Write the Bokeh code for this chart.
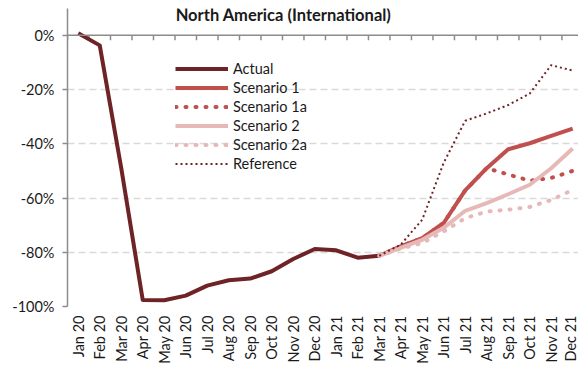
import math
from bokeh.plotting import figure
from bokeh.models import (Range1d, FixedTicker, NumeralTickFormatter, Span, Legend, LegendItem,
                          Label, ColumnDataSource)
from bokeh.embed import file_html
from bokeh.resources import INLINE

NAN = float("nan")

months = ["Jan 20", "Feb 20", "Mar 20", "Apr 20", "May 20", "Jun 20", "Jul 20", "Aug 20",
          "Sep 20", "Oct 20", "Nov 20", "Dec 20", "Jan 21", "Feb 21", "Mar 21", "Apr 21",
          "May 21", "Jun 21", "Jul 21", "Aug 21", "Sep 21", "Oct 21", "Nov 21", "Dec 21"]

actual = [0.8, -3.7, -49.0, -97.6, -97.7, -96.0, -92.3, -90.3, -89.7, -87.0, -82.5, -78.8,
          -79.3, -82.0, -81.3] + [NAN] * 9
pre = [NAN] * 14
scenario_1 = pre + [-81.3, -77.8, -74.8, -69.2, -57.2, -49.0, -42.0, -39.8, -37.1, -34.4]
scenario_1a = pre + [-81.3, -77.8, -74.8, -69.2, -57.2, -49.0, -51.3, -53.6, -52.6, -50.0]
scenario_2 = pre + [-81.3, -78.4, -75.4, -71.0, -64.7, -61.9, -58.6, -55.1, -49.0, -41.7]
scenario_2a = pre + [-81.3, -78.6, -76.6, -72.3, -67.4, -65.0, -64.3, -63.3, -60.7, -57.0]
reference = pre + [-81.3, -77.2, -68.0, -47.0, -31.5, -28.8, -25.7, -21.5, -11.0, -13.0]

y_ticks = [-100, -80, -60, -40, -20, 0]
title_text = "North America (International)"

FONT = "Lato"
LBL = "14.5px"
idx = list(range(len(months)))

def frac(vals):
    return [v / 100.0 for v in vals]

p = figure(width=578, height=366, output_backend="svg", toolbar_location=None,
           x_range=Range1d(-0.5, 23.27), y_range=Range1d(-1.0, 0.099),
           min_border_left=67, min_border_right=0, min_border_top=8, min_border_bottom=59)
p.outline_line_color = None
p.background_fill_color = "white"
p.border_fill_color = "white"

# axes
p.yaxis.ticker = FixedTicker(ticks=[t / 100.0 for t in y_ticks])
p.yaxis.formatter = NumeralTickFormatter(format="0%")
p.yaxis.axis_line_color = "#8C8C8C"
p.yaxis.axis_line_width = 1.5
p.yaxis.major_tick_line_color = "#8C8C8C"
p.yaxis.major_tick_line_width = 1.5
p.yaxis.major_tick_in = 0
p.yaxis.major_tick_out = 5
p.yaxis.minor_tick_line_color = None
p.yaxis.major_label_text_font = FONT
p.yaxis.major_label_text_font_size = LBL
p.yaxis.major_label_text_color = "#1a1a1a"
p.yaxis.major_label_standoff = 8

p.xaxis.ticker = FixedTicker(ticks=idx)
p.xaxis.major_label_overrides = {i: m for i, m in enumerate(months)}
p.xaxis.major_label_orientation = math.pi / 2
p.xaxis.axis_line_color = None
p.xaxis.major_tick_line_color = None
p.xaxis.minor_tick_line_color = None
p.xaxis.major_tick_in = 0
p.xaxis.major_tick_out = 0
p.xaxis.major_label_standoff = 9
p.xaxis.major_label_text_font = FONT
p.xaxis.major_label_text_font_size = LBL
p.xaxis.major_label_text_color = "#1a1a1a"

p.xgrid.grid_line_color = None
p.ygrid.ticker = FixedTicker(ticks=[t / 100.0 for t in y_ticks if t != 0])
p.ygrid.grid_line_color = "#D9D9D9"
p.ygrid.grid_line_width = 1.5
p.ygrid.grid_line_dash = "7 4"

# category axis line at 0% with tick marks between categories
p.add_layout(Span(location=0, dimension="width", line_color="#8C8C8C", line_width=1.5))
bounds = [i - 0.5 for i in range(len(months) + 1)]
p.segment(x0=bounds, y0=[0] * len(bounds), x1=bounds, y1=[-0.018] * len(bounds),
          line_color="#8C8C8C", line_width=1.5)

src = ColumnDataSource(dict(x=idx, actual=frac(actual), s1=frac(scenario_1), s1a=frac(scenario_1a),
                            s2=frac(scenario_2), s2a=frac(scenario_2a), ref=frac(reference)))

r_act = p.line("x", "actual", source=src, line_color="#6E2426", line_width=4, line_join="round")
r_s1 = p.line("x", "s1", source=src, line_color="#C0504D", line_width=4, line_join="round")
r_s1a = p.line("x", "s1a", source=src, line_color="#C0504D", line_width=4, line_dash="1 9",
               line_cap="round")
r_s2 = p.line("x", "s2", source=src, line_color="#E6B9B8", line_width=4, line_join="round")
r_s2a = p.line("x", "s2a", source=src, line_color="#E6B9B8", line_width=4, line_dash="1 9",
               line_cap="round")
r_ref = p.line("x", "ref", source=src, line_color="#6E2426", line_width=2, line_dash="2 3")

legend = Legend(items=[
    LegendItem(label="Actual", renderers=[r_act]),
    LegendItem(label="Scenario 1", renderers=[r_s1]),
    LegendItem(label="Scenario 1a", renderers=[r_s1a]),
    LegendItem(label="Scenario 2", renderers=[r_s2]),
    LegendItem(label="Scenario 2a", renderers=[r_s2a]),
    LegendItem(label="Reference", renderers=[r_ref]),
], location=(108, 133), padding=0, margin=0, spacing=0, glyph_width=53, glyph_height=19,
    label_height=19, label_standoff=5, border_line_color=None, background_fill_alpha=0,
    label_text_font=FONT, label_text_font_size=LBL, label_text_color="#1a1a1a")
p.add_layout(legend)

p.add_layout(Label(x=9.55, y=0.0735, text=title_text, text_align="center", text_baseline="middle",
                   text_font=FONT, text_font_style="bold", text_font_size="16.5px",
                   text_color="#1a1a1a"))

open("out.html", "w").write(file_html(p, INLINE))
